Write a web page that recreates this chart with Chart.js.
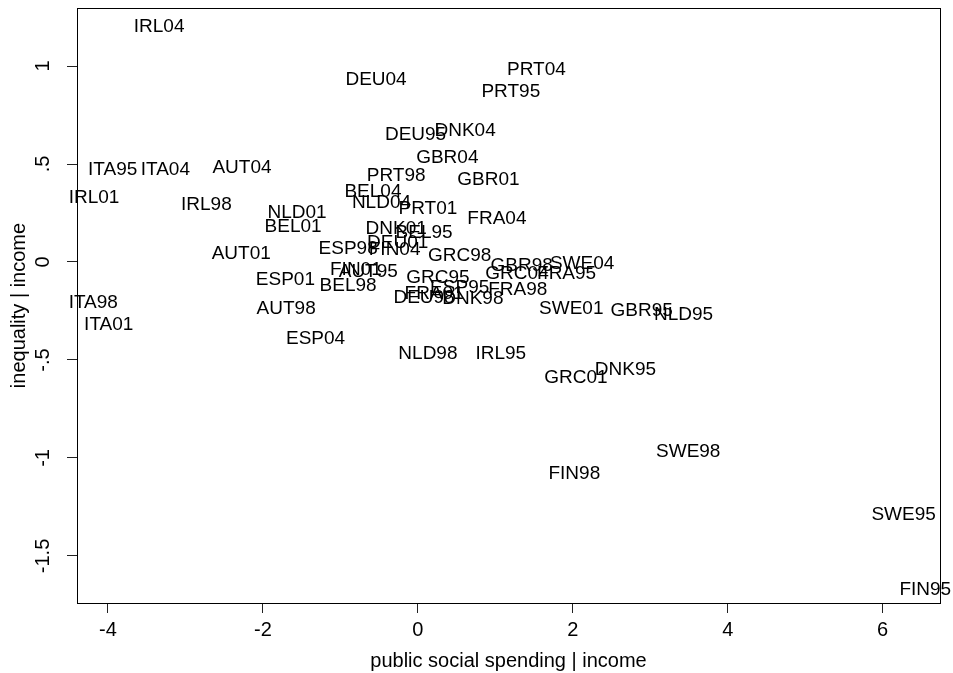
<!DOCTYPE html>
<html>
<head>
<meta charset="utf-8">
<script src="https://cdn.jsdelivr.net/npm/chart.js@4"></script>
<style>
    body { margin: 0; background: #fff; }
    #wrap { width: 953px; height: 673px; }
</style>
</head>
<body>
<div id="wrap"><canvas id="avplot" width="953" height="673"></canvas></div>
<script>
// --- 1. DATA ---
const countryYears = [
    'IRL04', 'DEU04', 'PRT04', 'PRT95', 'DEU95', 'DNK04', 'GBR04', 'ITA95', 'ITA04', 'AUT04',
    'PRT98', 'GBR01', 'IRL01', 'IRL98', 'BEL04', 'NLD04', 'PRT01', 'NLD01', 'FRA04', 'BEL01',
    'DNK01', 'BEL95', 'DEU01', 'ESP98', 'FIN04', 'AUT01', 'GRC98', 'GBR98', 'SWE04', 'FIN01',
    'AUT95', 'GRC04', 'FRA95', 'GRC95', 'ESP01', 'BEL98', 'ESP95', 'FRA98', 'FRA01', 'DEU98',
    'DNK98', 'AUT98', 'ITA98', 'ITA01', 'SWE01', 'GBR95', 'NLD95', 'ESP04', 'NLD98', 'IRL95',
    'DNK95', 'GRC01', 'SWE98', 'FIN98', 'SWE95', 'FIN95'
];
// public social spending | income
const spending = [
    -3.34, -0.54, 1.53, 1.20, -0.03, 0.61, 0.38, -3.94, -3.26, -2.27,
    -0.28, 0.91, -4.18, -2.73, -0.58, -0.47, 0.13, -1.56, 1.02, -1.61,
    -0.28, 0.08, -0.26, -0.90, -0.30, -2.28, 0.54, 1.34, 2.12, -0.80,
    -0.64, 1.28, 1.92, 0.26, -1.71, -0.90, 0.54, 1.29, 0.21, 0.08,
    0.71, -1.70, -4.19, -3.99, 1.98, 2.89, 3.43, -1.32, 0.13, 1.07,
    2.68, 2.04, 3.49, 2.02, 6.27, 6.55
];
// inequality | income
const inequality = [
    1.20, 0.93, 0.98, 0.87, 0.65, 0.67, 0.53, 0.47, 0.47, 0.48,
    0.44, 0.42, 0.33, 0.29, 0.36, 0.30, 0.27, 0.25, 0.22, 0.18,
    0.17, 0.15, 0.10, 0.07, 0.06, 0.04, 0.03, -0.02, -0.01, -0.04,
    -0.05, -0.06, -0.06, -0.08, -0.09, -0.12, -0.13, -0.14, -0.16, -0.18,
    -0.19, -0.24, -0.21, -0.32, -0.24, -0.25, -0.27, -0.39, -0.47, -0.47,
    -0.55, -0.59, -0.97, -1.08, -1.29, -1.67
];
const xTicks = [-4, -2, 0, 2, 4, 6];
const yTicks = [-1.5, -1, -0.5, 0, 0.5, 1];

const FONT = "'Liberation Sans', Arial, sans-serif";

// --- 2. PLUGINS ---
// country-year labels drawn in place of markers
const markerLabels = {
    id: 'markerLabels',
    afterDatasetsDraw(chart) {
        const ctx = chart.ctx;
        const xs = chart.scales.x, ys = chart.scales.y;
        ctx.save();
        ctx.font = '19px ' + FONT;
        ctx.fillStyle = '#000';
        ctx.textAlign = 'center';
        ctx.textBaseline = 'middle';
        countryYears.forEach((lab, i) => {
            ctx.fillText(lab, xs.getPixelForValue(spending[i]), ys.getPixelForValue(inequality[i]));
        });
        ctx.restore();
    }
};

// box around the plot region
const plotBox = {
    id: 'plotBox',
    afterDraw(chart) {
        const { left, top, width, height } = chart.chartArea;
        const ctx = chart.ctx;
        ctx.save();
        ctx.strokeStyle = '#000';
        ctx.lineWidth = 1;
        ctx.strokeRect(Math.round(left) + 0.5, Math.round(top) + 0.5, Math.round(width), Math.round(height));
        ctx.restore();
    }
};

// --- 3. CHART ---
const stataNum = v => String(v).replace('0.', '.');

new Chart(document.getElementById('avplot'), {
    type: 'scatter',
    data: {
        datasets: [{
            data: spending.map((x, i) => ({ x: x, y: inequality[i] })),
            pointRadius: 0,
            pointHoverRadius: 0
        }]
    },
    options: {
        responsive: false,
        animation: false,
        events: [],
        layout: { padding: { top: 8, right: 13, left: 0, bottom: 0 } },
        plugins: { legend: { display: false }, tooltip: { enabled: false } },
        scales: {
            x: {
                type: 'linear',
                min: -4.4,
                max: 6.74,
                afterBuildTicks: s => { s.ticks = xTicks.map(v => ({ value: v })); },
                afterFit: s => { s.height = 70; s.paddingLeft = 0; s.paddingRight = 0; },
                grid: { drawOnChartArea: false, drawTicks: true, tickLength: 10, color: '#222' },
                border: { display: false },
                ticks: { color: '#000', font: { family: FONT, size: 20 }, padding: 5, maxRotation: 0, autoSkip: false },
                title: { display: true, text: 'public social spending | income', color: '#000',
                         font: { family: FONT, size: 20 }, padding: { top: 0, bottom: 0 } }
            },
            y: {
                type: 'linear',
                min: -1.74,
                max: 1.296,
                afterBuildTicks: s => { s.ticks = yTicks.map(v => ({ value: v })); },
                afterFit: s => { s.width = 77; s.paddingTop = 0; s.paddingBottom = 0; },
                grid: { drawOnChartArea: false, drawTicks: true, tickLength: 10, color: '#222' },
                border: { display: false },
                ticks: { color: '#000', font: { family: FONT, size: 20 }, padding: 6,
                         minRotation: 90, maxRotation: 90, crossAlign: 'center', autoSkip: false,
                         callback: v => stataNum(v) },
                title: { display: true, text: 'inequality | income', color: '#000',
                         font: { family: FONT, size: 20 }, padding: { top: 7, bottom: 0 } }
            }
        }
    },
    plugins: [markerLabels, plotBox]
});
</script>
</body>
</html>
